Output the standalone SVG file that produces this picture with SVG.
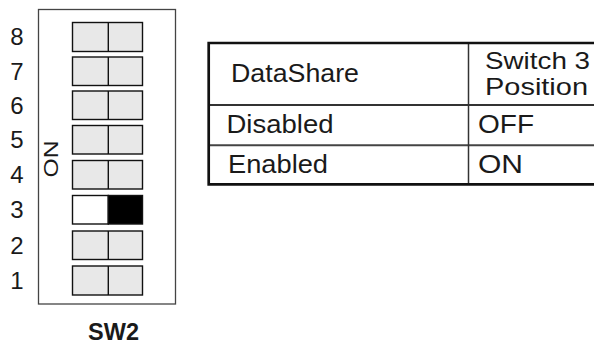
<svg xmlns="http://www.w3.org/2000/svg" width="594" height="349" viewBox="0 0 594 349">
<style>
text{font-family:"Liberation Sans",Arial,sans-serif;fill:#1a1a1a}
.num{font-size:24px;text-anchor:middle}
.sw{fill:#e8e8e8;stroke:#111;stroke-width:1.4}
.div{stroke:#111;stroke-width:1.4}
</style>
<rect width="594" height="349" fill="#fff"/>
<g id="sw2">
<rect x="38.5" y="9.5" width="137" height="294.5" fill="none" stroke="#444" stroke-width="1.3"/>
<g id="row8"><rect class="sw" x="72.5" y="22.5" width="70" height="29"/><line class="div" x1="108.3" y1="22.5" x2="108.3" y2="51.5"/><text class="num" x="17" y="45.3">8</text></g>
<g id="row7"><rect class="sw" x="72.5" y="57" width="70" height="28.5"/><line class="div" x1="108.3" y1="57" x2="108.3" y2="85.5"/><text class="num" x="17" y="79.8">7</text></g>
<g id="row6"><rect class="sw" x="72.5" y="91" width="70" height="28.5"/><line class="div" x1="108.3" y1="91" x2="108.3" y2="119.5"/><text class="num" x="17" y="113.8">6</text></g>
<g id="row5"><rect class="sw" x="72.5" y="125.5" width="70" height="28.5"/><line class="div" x1="108.3" y1="125.5" x2="108.3" y2="154"/><text class="num" x="17" y="148.3">5</text></g>
<g id="row4"><rect class="sw" x="72.5" y="160.5" width="70" height="28.5"/><line class="div" x1="108.3" y1="160.5" x2="108.3" y2="189"/><text class="num" x="17" y="183.3">4</text></g>
<g id="row3"><rect x="72.5" y="195.5" width="35.8" height="28.5" fill="#fff" stroke="#111" stroke-width="1.4"/><rect x="108.3" y="195.5" width="34.2" height="28.5" fill="#000" stroke="#111" stroke-width="1.4"/><text class="num" x="17" y="218.3">3</text></g>
<g id="row2"><rect class="sw" x="72.5" y="231" width="70" height="28.5"/><line class="div" x1="108.3" y1="231" x2="108.3" y2="259.5"/><text class="num" x="17" y="253.8">2</text></g>
<g id="row1"><rect class="sw" x="72.5" y="266" width="70" height="29"/><line class="div" x1="108.3" y1="266" x2="108.3" y2="295"/><text class="num" x="17" y="289">1</text></g>
<text id="on" x="0" y="0" font-size="20" textLength="37" lengthAdjust="spacingAndGlyphs" transform="translate(58 177.5) rotate(-90)">ON</text>
<text id="sw2label" x="113.5" y="340" font-size="23.5" font-weight="bold" text-anchor="middle">SW2</text>
</g>
<g id="table">
<g id="connectors">
<line x1="208.5" y1="105" x2="594" y2="105" stroke="#333" stroke-width="2"/>
<line x1="208.5" y1="145.3" x2="594" y2="145.3" stroke="#444" stroke-width="2"/>
<line x1="468.5" y1="43" x2="468.5" y2="184.3" stroke="#333" stroke-width="1.5"/>
<polyline points="596,43 208.7,43 208.7,184.3 596,184.3" fill="none" stroke="#111" stroke-width="2.7"/>
</g>
<g id="hdr1"><text x="231" y="81.5" font-size="26" textLength="128" lengthAdjust="spacingAndGlyphs">DataShare</text></g>
<g id="hdr2"><text x="485" y="68.5" font-size="24" textLength="105" lengthAdjust="spacingAndGlyphs">Switch 3</text>
<text x="485" y="95" font-size="24" textLength="103" lengthAdjust="spacingAndGlyphs">Position</text></g>
<g id="r1"><text x="226.5" y="132.5" font-size="26" textLength="107" lengthAdjust="spacingAndGlyphs">Disabled</text>
<text x="478" y="132.5" font-size="26" textLength="56" lengthAdjust="spacingAndGlyphs">OFF</text></g>
<g id="r2"><text x="228" y="173" font-size="26" textLength="100" lengthAdjust="spacingAndGlyphs">Enabled</text>
<text x="478" y="173" font-size="26" textLength="45" lengthAdjust="spacingAndGlyphs">ON</text></g>
</g>
</svg>
